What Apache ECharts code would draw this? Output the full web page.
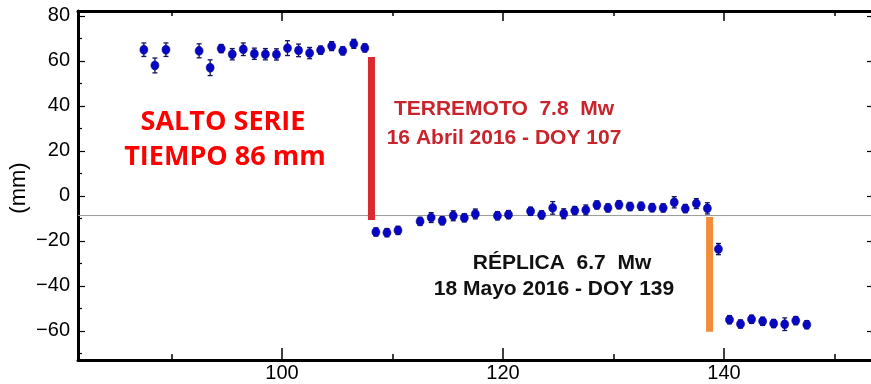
<!DOCTYPE html>
<html>
<head>
<meta charset="utf-8">
<script src="https://cdn.jsdelivr.net/npm/echarts@6/dist/echarts.min.js"></script>
<style>html,body{margin:0;padding:0;background:#fff}#c{width:871px;height:384px}</style>
</head>
<body>
<div id="c"></div>
<script>
// Day of year (daily solutions, centred at noon)
const days = [87.5, 88.5, 89.5, 92.5, 93.5, 94.5, 95.5, 96.5, 97.5, 98.5, 99.5, 100.5, 101.5, 102.5, 103.5, 104.5, 105.5, 106.5, 107.5,
  108.5, 109.5, 110.5, 112.5, 113.5, 114.5, 115.5, 116.5, 117.5, 119.5, 120.5, 122.5, 123.5, 124.5, 125.5, 126.5, 127.5, 128.5, 129.5,
  130.5, 131.5, 132.5, 133.5, 134.5, 135.5, 136.5, 137.5, 138.5,
  139.5, 140.5, 141.5, 142.5, 143.5, 144.5, 145.5, 146.5, 147.5];
// Displacement (mm)
const values = [65, 58, 65, 64.5, 57, 65.5, 63, 65.2, 63.2, 63, 62.9, 65.7, 64.7, 63.5, 64.8, 66.6, 64.5, 67.6, 65.8,
  -16, -16.3, -15.3, -11.3, -9.6, -11, -8.8, -9.7, -8, -8.8, -8.3, -6.8, -8.4, -5.3, -7.9, -6.5, -6.2, -4, -5.3,
  -3.9, -4.7, -4.6, -5.2, -5.3, -2.8, -5.6, -3.4, -5.5,
  -23.6, -55, -56.9, -54.8, -55.7, -56.7, -57, -55.4, -57.2];
// Error (mm, half length)
const errors = [3, 3.3, 3, 3.1, 3.5, 1.8, 2.5, 2.8, 2.5, 2.5, 2.5, 3.3, 2.8, 2.5, 1.8, 2, 1.8, 2, 1.8,
  1.8, 1.8, 1.8, 1.8, 2.2, 1.8, 2.2, 1.8, 2.2, 1.8, 1.8, 1.8, 1.8, 2.8, 2.2, 1.8, 2.2, 1.8, 1.8,
  1.8, 1.8, 1.8, 1.8, 1.8, 2.5, 1.8, 2.2, 2.5,
  2.5, 1.8, 1.8, 1.8, 1.8, 1.8, 2.8, 1.8, 1.8];
// Jumps
const quakeDay = 108.1, quakeTop = 61.8, quakeBottom = -10.7;
const aftershockDay = 138.7, aftershockTop = -9.3, aftershockBottom = -60.4;
const referenceLevel = -8.7;
// Ticks
const xMajorTicks = [100, 120, 140];
const xMinorTicks = [90, 110, 130, 150];
const yMajorTicks = [-60, -40, -20, 0, 20, 40, 60, 80];
const yMinorTicks = [-70, -50, -30, -10, 10, 30, 50, 70];
const yLabel = '(mm)';
const texts = {
  jump1: 'SALTO SERIE', jump2: 'TIEMPO 86 mm',
  quake1: 'TERREMOTO  7.8  Mw', quake2: '16 Abril 2016 - DOY 107',
  after1: 'RÉPLICA  6.7  Mw', after2: '18 Mayo 2016 - DOY 139'
};

const xMin = 81.54, xMax = 153.67, yMin = -72.9, yMax = 82.2;
const fmt = v => String(v).replace('-', '\u2212');
const lblFont = {fontFamily: 'Liberation Sans', fontSize: 20, color: '#000'};

function xAx(pos, ticks, len, labels, line) {
  return {
    type: 'value', position: pos, min: xMin, max: xMax,
    axisLine: {show: line, onZero: false, lineStyle: {color: '#000', width: 3}},
    axisTick: {show: true, inside: true, length: len, customValues: ticks, lineStyle: {color: '#000', width: 1.5}},
    axisLabel: labels ? Object.assign({show: true, customValues: ticks, margin: 3, formatter: fmt}, lblFont) : {show: false},
    splitLine: {show: false}
  };
}
function yAx(pos, ticks, len, labels, line) {
  return {
    type: 'value', position: pos, min: yMin, max: yMax,
    axisLine: {show: line, onZero: false, lineStyle: {color: '#000', width: 3}},
    axisTick: {show: true, inside: true, length: len, customValues: ticks, lineStyle: {color: '#000', width: 1.2}},
    axisLabel: labels ? Object.assign({show: true, customValues: ticks, margin: 8, formatter: fmt}, lblFont) : {show: false},
    splitLine: {show: false}
  };
}

const pts = days.map((d, i) => [d, values[i], errors[i]]);

const chart = echarts.init(document.getElementById('c'), null, {renderer: 'canvas'});
chart.setOption({
  animation: false,
  backgroundColor: '#fff',
  grid: {left: 78, top: 11, width: 797, height: 349, containLabel: false, outerBoundsMode: 'none'},
  xAxis: [
    xAx('bottom', xMajorTicks, 12, true, true),
    xAx('bottom', xMinorTicks, 6, false, false),
    xAx('top', xMajorTicks, 10, false, true),
    xAx('top', xMinorTicks, 5, false, false)
  ],
  yAxis: [
    yAx('left', yMajorTicks, 7, true, true),
    yAx('left', yMinorTicks, 4, false, false),
    yAx('right', yMajorTicks, 8, false, true),
    yAx('right', yMinorTicks, 3, false, false)
  ],
  series: [
    {
      type: 'line', xAxisIndex: 0, yAxisIndex: 0, symbol: 'none', silent: true,
      data: [[xMin, referenceLevel], [xMax, referenceLevel]],
      lineStyle: {color: '#9a9a9a', width: 1}, z: 1
    },
    {
      type: 'line', xAxisIndex: 0, yAxisIndex: 0, symbol: 'none', silent: true,
      data: [[quakeDay, quakeTop], [quakeDay, quakeBottom]],
      lineStyle: {color: '#d92a30', width: 7, cap: 'butt'}, z: 2
    },
    {
      type: 'line', xAxisIndex: 0, yAxisIndex: 0, symbol: 'none', silent: true,
      data: [[aftershockDay, aftershockTop], [aftershockDay, aftershockBottom]],
      lineStyle: {color: '#f28c38', width: 7, cap: 'butt'}, z: 2
    },
    {
      type: 'custom', xAxisIndex: 0, yAxisIndex: 0, z: 3,
      data: pts,
      renderItem: function (params, api) {
        const x = api.value(0), y = api.value(1), e = api.value(2);
        const top = api.coord([x, y + e]);
        const bot = api.coord([x, y - e]);
        const hw = 2.5;
        const st = {stroke: '#14145a', lineWidth: 1.3};
        return {
          type: 'group',
          children: [
            {type: 'line', shape: {x1: top[0], y1: top[1], x2: bot[0], y2: bot[1]}, style: st},
            {type: 'line', shape: {x1: top[0] - hw, y1: top[1], x2: top[0] + hw, y2: top[1]}, style: st},
            {type: 'line', shape: {x1: bot[0] - hw, y1: bot[1], x2: bot[0] + hw, y2: bot[1]}, style: st}
          ]
        };
      }
    },
    {
      type: 'scatter', xAxisIndex: 0, yAxisIndex: 0, z: 4,
      data: pts.map(p => [p[0], p[1]]),
      symbol: 'circle', symbolSize: [8, 9],
      itemStyle: {color: '#0606c4', borderColor: '#0a0a88', borderWidth: 0.6, opacity: 1}
    }
  ],
  graphic: [
    {type: 'text', x: 19, y: 188, rotation: Math.PI / 2,
      style: {text: yLabel, fill: '#000', font: '22px "Liberation Sans"', align: 'center', verticalAlign: 'middle'}},
    {type: 'text', x: 223, y: 122,
      style: {text: texts.jump1, fill: '#ff0000', font: 'bold 27px "Open Sans"', align: 'center', verticalAlign: 'middle'}},
    {type: 'text', x: 225, y: 157,
      style: {text: texts.jump2, fill: '#ff0000', font: 'bold 27px "Open Sans"', align: 'center', verticalAlign: 'middle'}},
    {type: 'text', x: 504, y: 109,
      style: {text: texts.quake1, fill: '#c8242c', font: 'bold 21px "Liberation Sans"', align: 'center', verticalAlign: 'middle'}},
    {type: 'text', x: 504, y: 138,
      style: {text: texts.quake2, fill: '#c8242c', font: 'bold 21px "Liberation Sans"', align: 'center', verticalAlign: 'middle'}},
    {type: 'text', x: 562, y: 263,
      style: {text: texts.after1, fill: '#111', font: 'bold 21px "Liberation Sans"', align: 'center', verticalAlign: 'middle'}},
    {type: 'text', x: 554, y: 289,
      style: {text: texts.after2, fill: '#111', font: 'bold 21px "Liberation Sans"', align: 'center', verticalAlign: 'middle'}}
  ]
});
</script>
</body>
</html>
